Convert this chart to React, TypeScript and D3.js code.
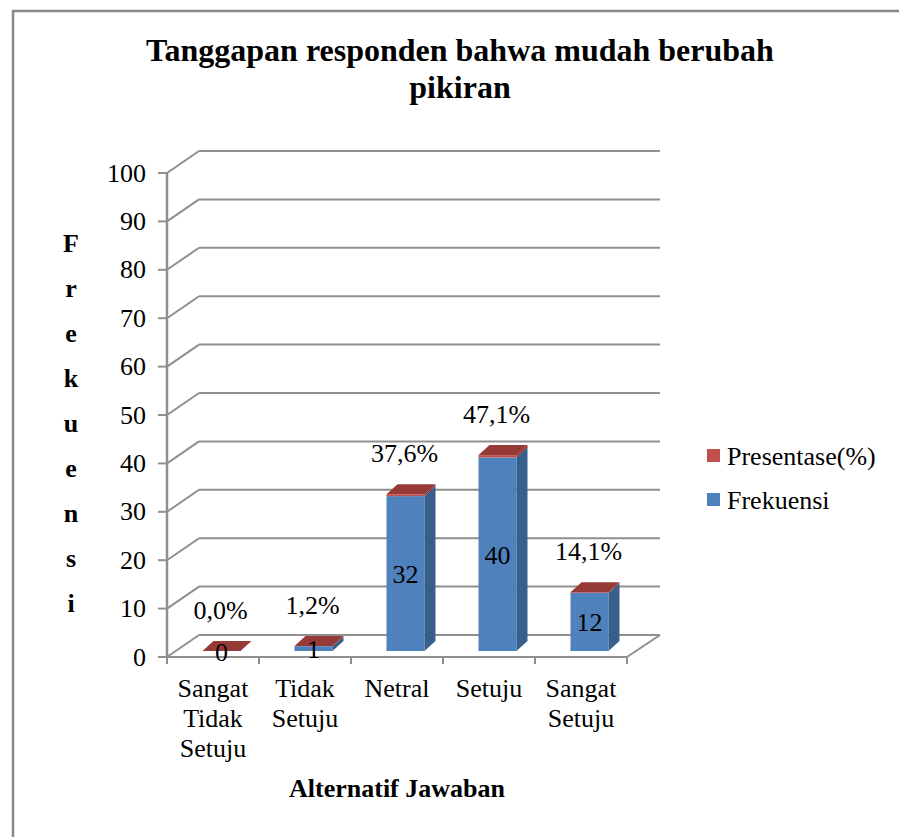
import React from "react";
import * as d3 from "d3";

const categories = ["Sangat Tidak Setuju", "Tidak Setuju", "Netral", "Setuju", "Sangat Setuju"];
const categoryLines = [["Sangat", "Tidak", "Setuju"], ["Tidak", "Setuju"], ["Netral"], ["Setuju"], ["Sangat", "Setuju"]];
const frekuensi = [0, 1, 32, 40, 12];
const presentase = [0.0, 1.2, 37.6, 47.1, 14.1];
const yTicks = [0, 10, 20, 30, 40, 50, 60, 70, 80, 90, 100];
const legendItems = [
  { name: "Presentase(%)", color: "#C0504D" },
  { name: "Frekuensi", color: "#4F81BD" },
];
const titleLines = ["Tanggapan responden bahwa mudah berubah", "pikiran"];
const yTitleLetters = ["F", "r", "e", "k", "u", "e", "n", "s", "i"];
const xTitle = "Alternatif Jawaban";

const W = 899;
const H = 837;
const FONT = "'Liberation Serif', 'Times New Roman', serif";

export default function App() {
  const axisX = 167;
  const plotRight = 627;
  const wallDX = 32;
  const wallDY = -22;
  const y = d3.scaleLinear().domain([0, 100]).range([657, 173]);
  const pxPerUnit = y(0) - y(1);
  const x = d3.scaleBand<string>().domain(categories).range([axisX, plotRight]);
  const bw = x.bandwidth();
  const barW = 38;
  const barShiftX = 8.5;
  const barShiftY = -6;
  const barDX = 11;
  const barDY = -10;
  const yBar = (v: number) => y(v) + barShiftY;
  const fmtPct = (v: number) => d3.format(".1f")(v).replace(".", ",") + "%";
  const grid = "#8f8f8f";

  return (
    <svg width={W} height={H} style={{ position: "absolute", left: 0, top: 0, background: "#fff" }} fontFamily={FONT}>
      {/* outer frame */}
      <path d={`M13,${H} L13,11 L${W},11`} fill="none" stroke="#888" strokeWidth={2.5} />

      {/* title */}
      {titleLines.map((t, i) => (
        <text key={t} x={460} y={61 + i * 37} textAnchor="middle" fontSize={32} fontWeight="bold" fill="#000">
          {t}
        </text>
      ))}

      {/* back wall gridlines and left wall diagonals */}
      {yTicks.map((t) => (
        <g key={t}>
          <line x1={axisX + wallDX} x2={660} y1={y(t) + wallDY} y2={y(t) + wallDY} stroke={grid} strokeWidth={2} />
          <line x1={axisX} x2={axisX + wallDX} y1={y(t)} y2={y(t) + wallDY} stroke={grid} strokeWidth={2} />
          <line x1={axisX - 9} x2={axisX} y1={y(t)} y2={y(t)} stroke={grid} strokeWidth={2} />
          <text x={146} y={y(t)} textAnchor="end" dominantBaseline="central" fontSize={26} fill="#000">
            {t}
          </text>
        </g>
      ))}

      {/* floor front edge */}
      <line x1={axisX} x2={plotRight} y1={y(0)} y2={y(0)} stroke={grid} strokeWidth={2} />
      <line x1={plotRight} x2={660} y1={y(0)} y2={y(0) + wallDY} stroke={grid} strokeWidth={2} />
      {categories.map((c) => (
        <line key={c} x1={(x(c) as number) + bw} x2={(x(c) as number) + bw} y1={y(0)} y2={y(0) + 7} stroke={grid} strokeWidth={2} />
      ))}
      <line x1={axisX} x2={axisX} y1={y(0) + 7} y2={y(0)} stroke={grid} strokeWidth={2} />
      {/* vertical axis */}
      <line x1={axisX} x2={axisX} y1={y(100)} y2={y(0)} stroke={grid} strokeWidth={2.5} />

      {/* bars */}
      {categories.map((c, i) => {
        const cx = (x(c) as number) + bw / 2 + barShiftX;
        const x0 = cx - barW / 2;
        const x1 = cx + barW / 2;
        const segs = [
          { v0: 0, v1: frekuensi[i], front: "#4F81BD", side: "#385E8C", top: "#5B8AC4" },
          { v0: frekuensi[i], v1: frekuensi[i] + presentase[i] / 100, front: "#C0504D", side: "#8A3533", top: "#953A37" },
        ];
        const topV = frekuensi[i] + presentase[i] / 100;
        return (
          <g key={c}>
            {segs.map((s, k) => {
              const yb = yBar(s.v0);
              const yt = yBar(s.v1);
              return (
                <g key={k}>
                  {yb - yt > 0.01 && (
                    <>
                      <rect x={x0} y={yt} width={barW} height={yb - yt} fill={s.front} />
                      <polygon points={`${x1},${yb} ${x1 + barDX},${yb + barDY} ${x1 + barDX},${yt + barDY} ${x1},${yt}`} fill={s.side} />
                    </>
                  )}
                  {k === segs.length - 1 && (
                    <polygon points={`${x0},${yt} ${x1},${yt} ${x1 + barDX},${yt + barDY} ${x0 + barDX},${yt + barDY}`} fill={s.top} />
                  )}
                </g>
              );
            })}
            <text x={cx} y={(yBar(0) + yBar(frekuensi[i])) / 2 + 1} textAnchor="middle" dominantBaseline="central" fontSize={26} fill="#000">
              {frekuensi[i]}
            </text>
            <text x={cx - 1} y={yBar(topV) - 41} textAnchor="middle" dominantBaseline="central" fontSize={26} fill="#000">
              {fmtPct(presentase[i])}
            </text>
            {categoryLines[i].map((ln, j) => (
              <text key={j} x={(x(c) as number) + bw / 2} y={697 + j * 30} textAnchor="middle" fontSize={26} fill="#000">
                {ln}
              </text>
            ))}
          </g>
        );
      })}

      {/* y axis title (stacked letters) */}
      {yTitleLetters.map((l, i) => (
        <text key={i} x={71} y={252 + i * 45} textAnchor="middle" fontSize={26} fontWeight="bold" fill="#000">
          {l}
        </text>
      ))}

      {/* x axis title */}
      <text x={397} y={797} textAnchor="middle" fontSize={26} fontWeight="bold" fill="#000">
        {xTitle}
      </text>

      {/* legend */}
      {legendItems.map((d, i) => (
        <g key={d.name}>
          <rect x={707} y={449 + i * 44} width={13} height={13} fill={d.color} />
          <text x={727} y={456 + i * 44} dominantBaseline="central" fontSize={26} fill="#000">
            {d.name}
          </text>
        </g>
      ))}
    </svg>
  );
}
